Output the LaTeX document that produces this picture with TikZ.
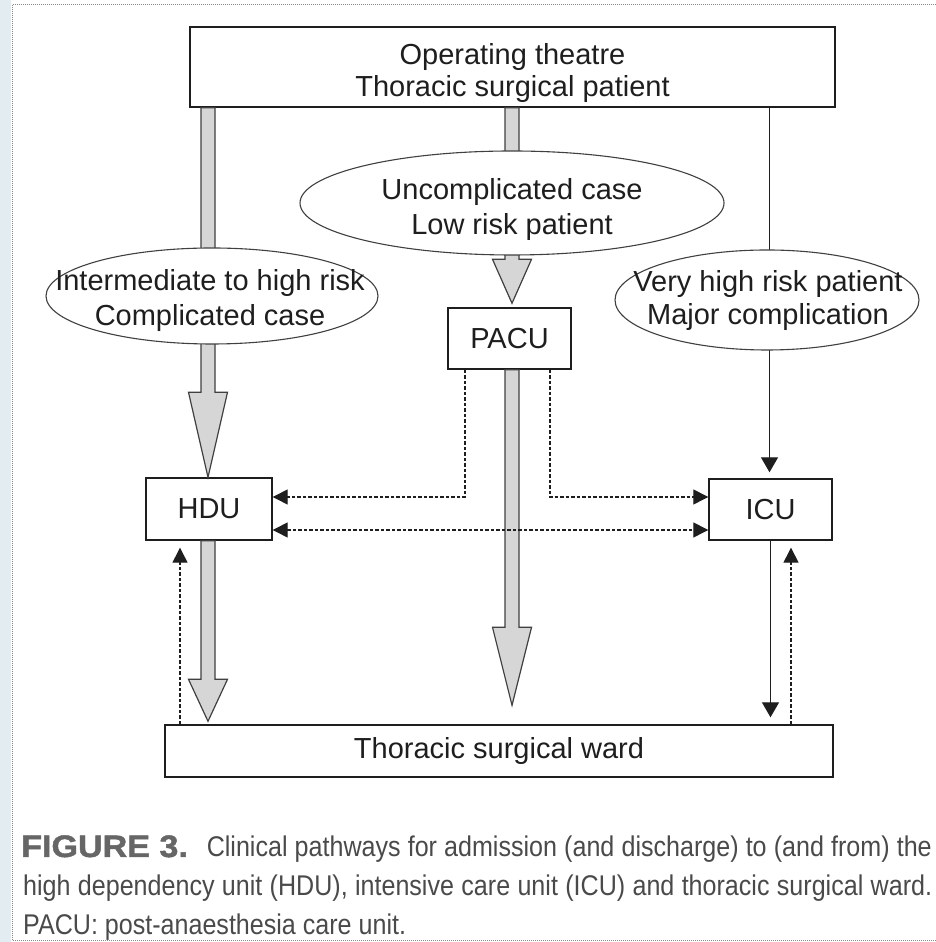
\documentclass[tikz,border=0pt]{standalone}
\usepackage{fontspec}
\setmainfont{Liberation Sans}
\newfontfamily\capfont[FakeStretch=0.88]{Liberation Sans}
\newfontfamily\figfont[FakeStretch=1.1,FakeBold=1.5]{Liberation Sans}
\usetikzlibrary{arrows.meta,calc,shapes.geometric}

\definecolor{ink}{HTML}{1E1E1E}
\definecolor{shaft}{HTML}{D6D6D6}
\definecolor{shaftline}{HTML}{404040}
\definecolor{capgray}{HTML}{4A4A4A}
\definecolor{figgray}{HTML}{666666}
\definecolor{framegray}{HTML}{8A8A8A}
\definecolor{strip}{HTML}{E3ECF0}

\tikzset{
  unitbox/.style={draw=ink, line width=1.4pt, fill=white, inner sep=0pt,
    text=ink, align=center, font=\fontsize{29}{34}\selectfont},
  oval/.style={ellipse, draw=ink!85, line width=1.1pt, fill=white, inner sep=0pt},
  textline/.style={inner sep=0pt, anchor=base, text=ink,
    font=\fontsize{29}{34}\selectfont},
  fatarrow/.style={fill=shaft, draw=shaftline, line width=1.2pt, line join=miter},
  solidline/.style={draw=ink, line width=1.4pt,
    -{Triangle[length=15pt,width=17pt]}},
  dotline/.style={draw=ink, line width=1.3pt, dash pattern=on 3.5pt off 2pt,
    -{Triangle[length=15pt,width=15pt]}},
  capline/.style={inner sep=0pt, text=capgray, font=\capfont\fontsize{28.5}{34}\selectfont},
}

% thick grey downward arrow: #1 start, #2 tip, #3 head length
\newcommand\fatdown[3]{%
  \filldraw[fatarrow] let \p1=#1, \p2=#2 in
    (\x1-7pt,\y1) -- (\x1-7pt,\y2+#3) -- (\x1-19.5pt,\y2+#3) -- (\x2,\y2)
    -- (\x1+19.5pt,\y2+#3) -- (\x1+7pt,\y2+#3) -- (\x1+7pt,\y1) -- cycle;}

\begin{document}
\begin{tikzpicture}[x=1pt,y=1pt]
\useasboundingbox (0,0) rectangle (936,942);
\fill[white] (0,0) rectangle (936,942);
\fill[strip] (0,0) rectangle (11,942);
\draw[framegray, line width=1pt, dash pattern=on 1pt off 1pt]
  (950,1.5) -- (12,1.5) -- (12,937) -- (950,937);

% units
\node[unitbox, minimum width=645, minimum height=80] (theatre) at (512.5,875) {};
\node[textline] (theatre1) at (512.5,877) {Operating theatre};
\node[textline] (theatre2) at (512.5,845) {Thoracic surgical patient};
\node[unitbox, minimum width=123, minimum height=61] (pacu) at (509.5,603.5) {PACU};
\node[unitbox, minimum width=126, minimum height=62] (hdu) at (209,433) {HDU};
\node[unitbox, minimum width=123, minimum height=61] (icu) at (770.5,432.5) {ICU};
\node[unitbox, minimum width=668, minimum height=52] (ward) at (499,191)
  {Thoracic surgical ward};

% main pathways
\fatdown{($(hdu.north |- theatre.south)+(-1,0)$)}{($(hdu.north)+(-1,0)$)}{85pt}
\fatdown{($(pacu.north |- theatre.south)+(2.5,0)$)}{($(pacu.north)+(2.5,4)$)}{44pt}
\fatdown{($(pacu.south)+(2.5,0)$)}{($(pacu.south |- ward.north)+(2.5,19)$)}{78pt}
\fatdown{($(hdu.south)+(-1,0)$)}{($(hdu.south |- ward.north)+(-1,3)$)}{42pt}

\draw[solidline, shorten >=6pt] ($(icu.north |- theatre.south)+(-1,0)$) -- ($(icu.north)+(-1,0)$);
\draw[solidline, shorten >=7pt] (icu.south) -- (icu.south |- ward.north);

% transfers and discharges
\draw[dotline, shorten >=7pt] ($(icu.south |- ward.north)+(20.5,0)$) -- ($(icu.south)+(20.5,0)$);
\draw[dotline, shorten >=7pt] ($(hdu.south |- ward.north)+(-29,0)$) -- ($(hdu.south)+(-29,0)$);
\draw[dotline] ($(pacu.south)+(-44.5,0)$) |- ($(hdu.east)+(0,12)$);
\draw[dotline] ($(pacu.south)+(40.5,0)$) |- ($(icu.west)+(0,12.5)$);
\draw[dotline, {Triangle[length=15pt,width=15pt]}-{Triangle[length=15pt,width=15pt]}]
  ($(hdu.east)+(0,-21)$) -- ($(icu.west)+(0,-20.5)$);

% risk categories
\node[oval, minimum width=332, minimum height=96] (riskhi) at (212,646) {};
\node[textline] (riskhi1) at (210,651) {Intermediate to high risk};
\node[textline] (riskhi2) at (210,616) {Complicated case};
\node[oval, minimum width=424, minimum height=104] (risklow) at (512,739) {};
\node[textline] (risklow1) at (512,742) {Uncomplicated case};
\node[textline] (risklow2) at (512,707) {Low risk patient};
\node[oval, minimum width=304, minimum height=100] (riskvh) at (767,642) {};
\node[textline] (riskvh1) at (768,650) {Very high risk patient};
\node[textline] (riskvh2) at (768,617) {Major complication};

% caption
\node[inner sep=0pt, anchor=base west, text=figgray,
  font=\figfont\bfseries\fontsize{31}{34}\selectfont] (figlabel) at (21,85) {FIGURE 3.};
\node[capline, anchor=base east] (capone) at (932,85)
  {\makebox[725pt][s]{Clinical pathways for admission (and discharge) to (and from) the}};
\node[capline, anchor=base west] (captwo) at (23,46)
  {\makebox[909pt][s]{high dependency unit (HDU), intensive care unit (ICU) and thoracic surgical ward.}};
\node[capline, anchor=base west] (capthree) at (23,8)
  {PACU: post-anaesthesia care unit.};
\end{tikzpicture}
\end{document}
